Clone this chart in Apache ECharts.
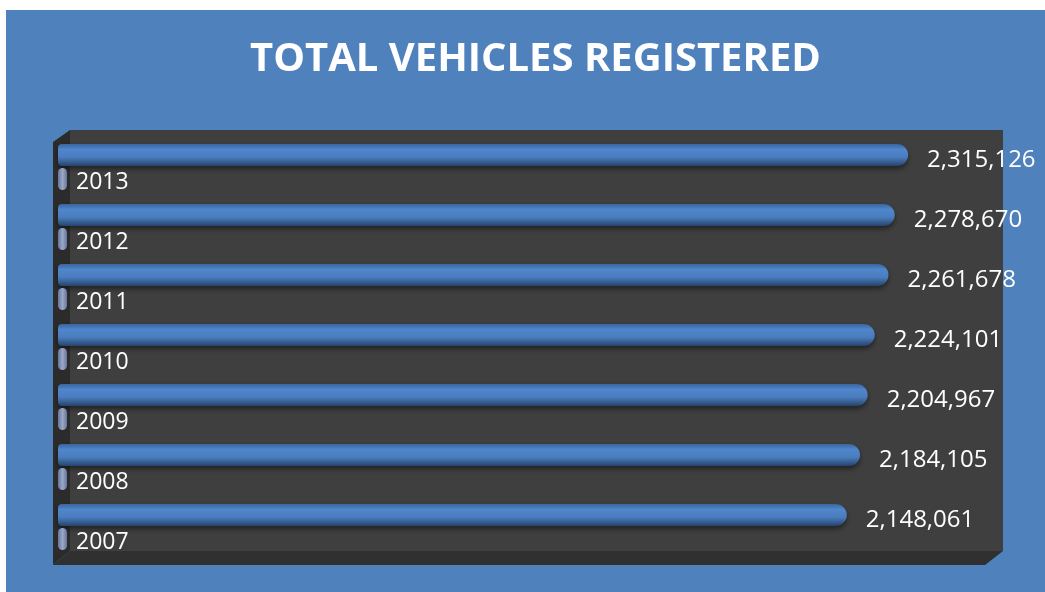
<!DOCTYPE html>
<html>
<head>
<meta charset="utf-8">
<title>Total Vehicles Registered</title>
<script src="https://cdn.jsdelivr.net/npm/echarts@6/dist/echarts.min.js"></script>
<style>
  html, body { margin: 0; padding: 0; background: #fff; }
  #chart1 { width: 1045px; height: 592px; }
</style>
</head>
<body>
<div id="chart1"></div>
<script>
// data
var years = ['2007', '2008', '2009', '2010', '2011', '2012', '2013'];
var yearValues = [2007, 2008, 2009, 2010, 2011, 2012, 2013];
var vehicles = [2148061, 2184105, 2204967, 2224101, 2261678, 2278670, 2315126];

function fmt (v) {
    return String(v).replace(/\B(?=(\d{3})+(?!\d))/g, ',');
}

var myChart = echarts.init(document.getElementById('chart1'));
var option = {
    backgroundColor: '#ffffff',
    animation: false,
    title: {
        text: 'TOTAL VEHICLES REGISTERED',
        left: 245,
        top: 35,
        textStyle: {
            color: '#ffffff',
            fontFamily: 'Open Sans',
            fontWeight: 'bold',
            fontSize: 40
        }
    },
    // blue panel + 3d box behind the plot
    graphic: [
        { type: 'rect', z: -10, shape: { x: 6, y: 10, width: 1039, height: 582 }, style: { fill: '#4F81BD' } },
        { type: 'rect', z: -9, shape: { x: 70, y: 130, width: 933, height: 421 }, style: { fill: '#3F3F3F' } },
        { type: 'polygon', z: -9, shape: { points: [[53, 142], [70, 130], [70, 551], [53, 565]] }, style: { fill: '#2B2B2B' } },
        { type: 'polygon', z: -9, shape: { points: [[53, 565], [70, 551], [1003, 551], [985, 565]] }, style: { fill: '#303030' } }
    ],
    grid: {
        left: 58,
        top: 137,
        width: 918,
        height: 420
    },
    xAxis: {
        type: 'value',
        min: 0,
        max: 2500000,
        show: false
    },
    yAxis: {
        type: 'category',
        data: years,
        show: false
    },
    series: [
        {
            name: 'Vehicles',
            type: 'bar',
            data: vehicles,
            barWidth: 22,
            barGap: '9%',
            itemStyle: {
                borderRadius: [4, 11, 11, 4],
                shadowColor: 'rgba(0,0,0,0.45)',
                shadowBlur: 5,
                shadowOffsetY: 3,
                color: new echarts.graphic.LinearGradient(0, 0, 0, 1, [
                    { offset: 0, color: '#3A669E' },
                    { offset: 0.25, color: '#4F86CC' },
                    { offset: 0.6, color: '#4A7DBE' },
                    { offset: 1, color: '#26436C' }
                ])
            },
            label: {
                show: true,
                position: 'right',
                distance: 19,
                offset: [0, 5],
                color: '#ffffff',
                fontFamily: 'Open Sans',
                fontSize: 24,
                formatter: function (p) { return fmt(p.value); }
            }
        },
        {
            name: 'Year',
            type: 'bar',
            data: yearValues,
            barWidth: 22,
            barMinHeight: 9,
            itemStyle: {
                borderRadius: 4.5,
                color: new echarts.graphic.LinearGradient(0, 0, 1, 0, [
                    { offset: 0, color: '#66769A' },
                    { offset: 0.5, color: '#9AA8C8' },
                    { offset: 1, color: '#66769A' }
                ])
            },
            label: {
                show: true,
                position: 'right',
                distance: 9,
                offset: [0, 3],
                color: '#ffffff',
                fontFamily: 'Open Sans',
                fontSize: 23,
                formatter: '{c}'
            }
        }
    ]
};
myChart.setOption(option);
window.onresize = myChart.resize;
</script>
</body>
</html>
